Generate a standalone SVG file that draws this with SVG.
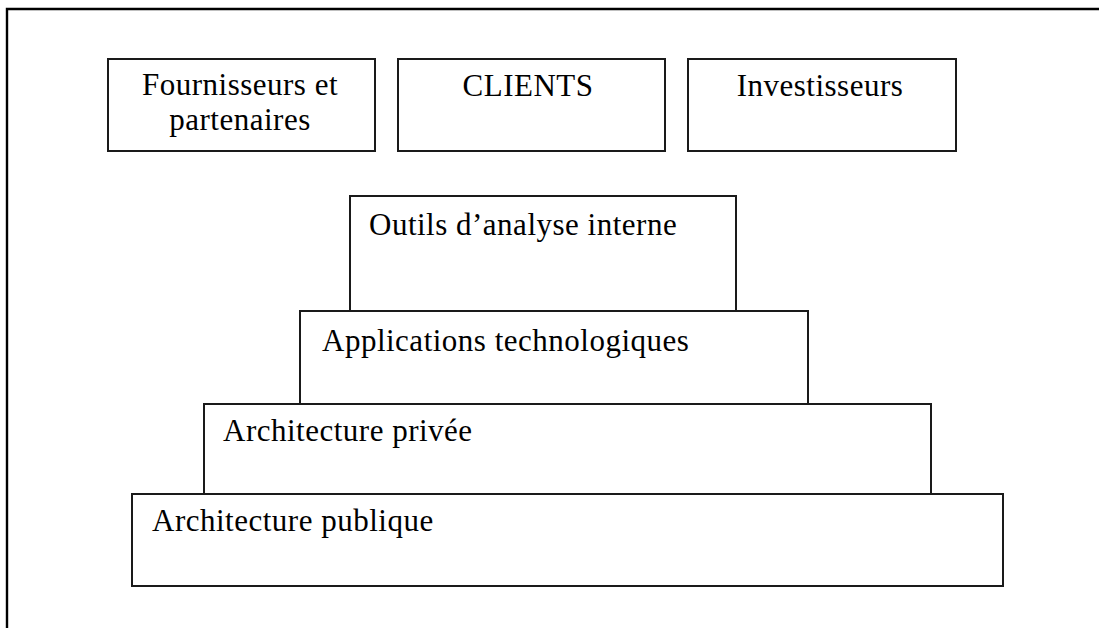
<svg xmlns="http://www.w3.org/2000/svg" width="1104" height="628" viewBox="0 0 1104 628">
<style>
.box{fill:#fff;stroke:#1a1a1a;stroke-width:2}
.frame{stroke:#000;stroke-width:2.4;fill:none}
text{font-family:"Liberation Serif","Times New Roman",serif;font-size:31px;letter-spacing:0.5px;fill:#000}
.c{text-anchor:middle}
</style>
<rect width="1104" height="628" fill="#fff"/>
<g id="frame">
<path class="frame" d="M7,628 V9 H1099"/>
</g>
<g id="connectors"></g>
<g id="fournisseurs">
<rect class="box" x="108" y="59" width="267" height="92"/>
<text class="c" x="240" y="95">Fournisseurs et</text>
<text class="c" x="240" y="130">partenaires</text>
</g>
<g id="clients">
<rect class="box" x="398" y="59" width="267" height="92"/>
<text class="c" x="528" y="96">CLIENTS</text>
</g>
<g id="investisseurs">
<rect class="box" x="688" y="59" width="268" height="92"/>
<text class="c" x="820" y="96">Investisseurs</text>
</g>
<g id="architecture-publique">
<rect class="box" x="132" y="494" width="871" height="92"/>
<text x="152" y="531">Architecture publique</text>
</g>
<g id="architecture-privee">
<rect class="box" x="204" y="404" width="727" height="90"/>
<text x="223" y="441">Architecture privée</text>
</g>
<g id="applications">
<rect class="box" x="300" y="311" width="508" height="93"/>
<text x="322" y="351">Applications technologiques</text>
</g>
<g id="outils">
<rect class="box" x="350" y="196" width="386" height="115"/>
<text x="369" y="235">Outils d’analyse interne</text>
</g>
</svg>
